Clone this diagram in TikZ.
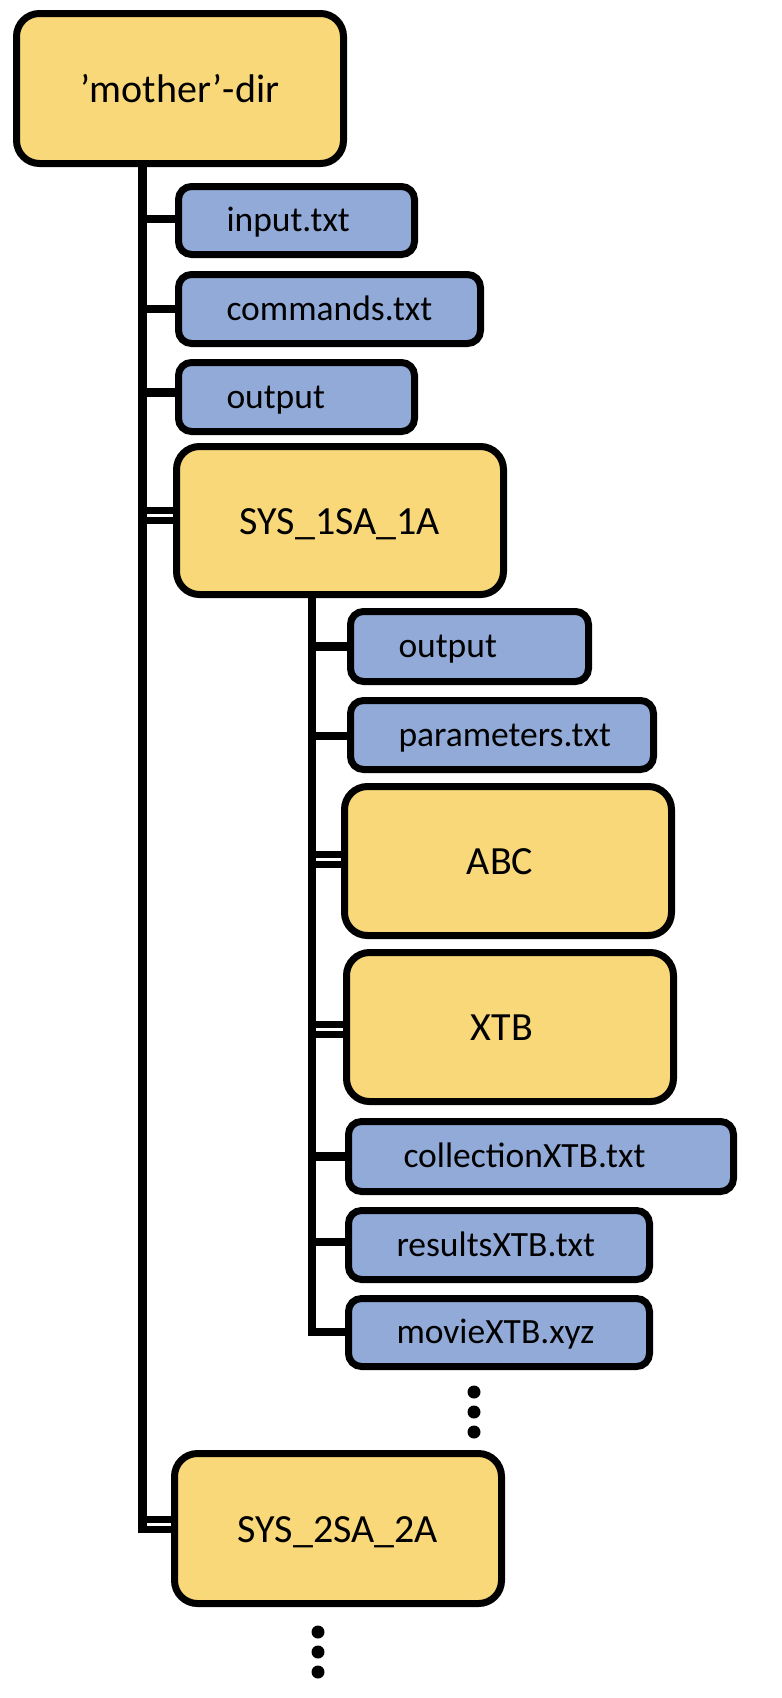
\documentclass[tikz,border=0pt]{standalone}
\usepackage{fontspec}
\setmainfont{Carlito}
\usetikzlibrary{backgrounds,calc}
\definecolor{dirfill}{RGB}{249,216,122}
\definecolor{filefill}{RGB}{146,170,216}
\begin{document}
\begin{tikzpicture}[x=1pt,y=-1pt,
 dirbox/.style={draw=black, line width=7pt, fill=dirfill, rounded corners=23pt,
   minimum width=327pt, minimum height=149pt, inner sep=0pt,
   font=\fontsize{40}{48}\selectfont, text height=27pt, text depth=0pt},
 filebox/.style={draw=black, line width=7pt, fill=filefill, rounded corners=13pt,
   minimum width=#1, text width=#1, minimum height=69pt, inner xsep=0pt, inner ysep=0pt,
   align=left, font=\fontsize{35.5}{42}\selectfont, text height=22pt, text depth=0pt,
   execute at begin node={\noindent\hspace*{48pt}}},
 trunk/.style={line width=8.5pt},
 dconn/.style={line width=7pt, double=white, double distance=3pt},
 dotmark/.style={fill=black}]
\useasboundingbox (0,0) rectangle (782,1698);

\node[dirbox, minimum height=150pt] (mother) at (180,88.5) {’mother’-dir};
\node[filebox=236pt, minimum height=68pt] (input) at (296.5,220.5) {input.txt};
\node[filebox=302pt] (commands) at (329.5,309) {commands.txt};
\node[filebox=236pt] (out1) at (296.5,397) {output};
\node[dirbox, minimum height=148pt] (sys1) at (340,520.5) {SYS\_1SA\_1A};
\node[filebox=238pt, minimum height=70pt] (out2) at (469.5,646.5) {output};
\node[filebox=303pt] (params) at (502,735) {parameters.txt};
\node[dirbox] (abc) at (508,861) {ABC\kern16pt};
\node[dirbox] (xtb) at (510,1027) {XTB\kern16pt};
\node[filebox=385pt, minimum height=70pt] (coll) at (541,1156.5) {\hspace*{7pt}collectionXTB.txt};
\node[filebox=301pt] (results) at (499,1245) {resultsXTB.txt};
\node[filebox=301pt, minimum height=68pt] (movie) at (499,1332.5) {movieXTB.xyz};
\node[dirbox, minimum height=150pt] (sys2) at (338,1528.5) {SYS\_2SA\_2A};

\coordinate (mainend) at (142.5,1533);
\coordinate (subend) at (312,1336);

\begin{scope}[on background layer]
\draw[trunk] (mainend |- mother.south) -- (mainend);
\draw[trunk] (subend |- sys1.south) -- (subend);
\draw[trunk] ($(input.west)+(0,-1.5)$) -- ($(input.west -| mainend)+(0,-1.5)$);
\draw[trunk] (commands.west) -- (commands.west -| mainend);
\draw[trunk] ($(out1.west)+(0,-4.5)$) -- ($(out1.west -| mainend)+(0,-4.5)$);
\draw[dconn] ($(sys1.west)+(0,-5.5)$) -- ($(sys1.west -| mainend)+(4.25,-5.5)$);
\draw[dconn] ($(sys2.west)+(0,-4)$) -- ($(sys2.west -| mainend)+(4.25,-4)$);
\draw[trunk] (out2.west) -- (out2.west -| subend);
\draw[trunk] ($(params.west)+(0,1)$) -- ($(params.west -| subend)+(0,1)$);
\draw[dconn] ($(abc.west)+(0,-2)$) -- ($(abc.west -| subend)+(4.25,-2)$);
\draw[dconn] ($(xtb.west)+(0,2)$) -- ($(xtb.west -| subend)+(4.25,2)$);
\draw[trunk] (coll.west) -- (coll.west -| subend);
\draw[trunk] ($(results.west)+(0,-3)$) -- ($(results.west -| subend)+(0,-3)$);
\draw[trunk] ($(movie.west)+(0,-0.75)$) -- ($(movie.west -| subend)+(0,-0.75)$);
\end{scope}

\foreach \yy in {1392,1412,1432} \fill[dotmark] (474,\yy) circle[radius=6.5pt];
\foreach \yy in {1632,1652,1672} \fill[dotmark] (318,\yy) circle[radius=6.5pt];
\end{tikzpicture}
\end{document}
